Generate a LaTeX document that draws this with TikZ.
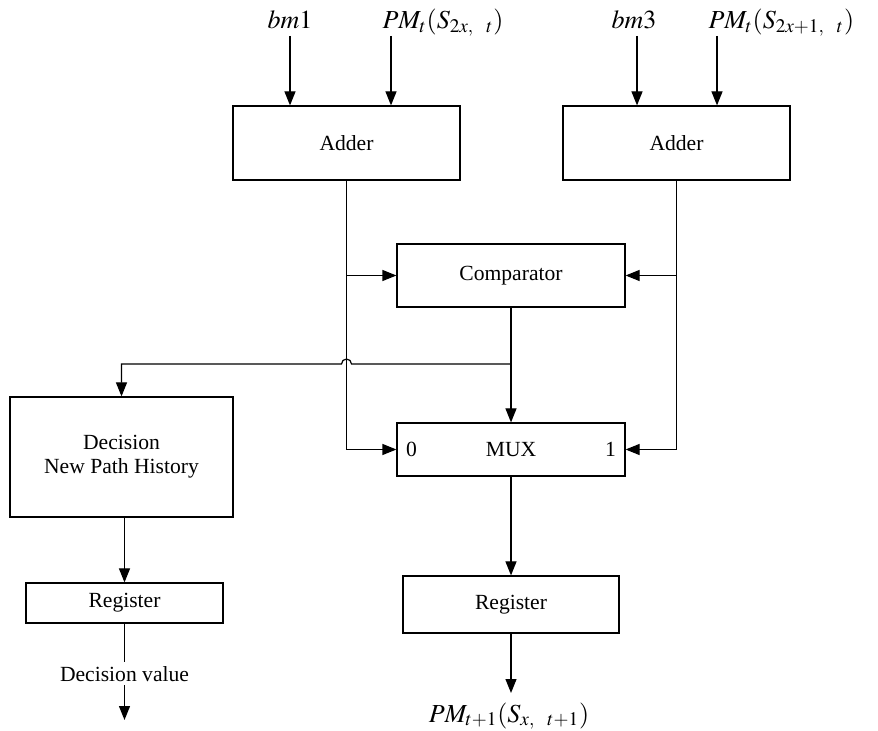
\documentclass[tikz,border=0pt]{standalone}
\usepackage{mathptmx}
\usepackage{fontspec}
\setmainfont{Liberation Serif}
\usetikzlibrary{arrows.meta}

\begin{document}
\begin{tikzpicture}[x=0.5pt, y=-0.5pt, >={Triangle[length=7pt,width=5.5pt]}, line width=0.6pt,
    block/.style={draw, inner sep=0pt, align=center, font=\fontsize{10.8}{12}\selectfont},
    lbl/.style={inner sep=0pt, anchor=base, font=\fontsize{13}{15}\selectfont},
    small/.style={inner sep=1.5pt, font=\fontsize{10.8}{12}\selectfont}]
\useasboundingbox (0,0) rectangle (878,731);

% blocks
\node[block, minimum width=113.5pt, minimum height=37pt] (add1) at (346.5,143) {Adder};
\node[block, minimum width=113.5pt, minimum height=37pt] (add2) at (676.5,143) {Adder};
\node[block, minimum width=114pt, minimum height=31.5pt] (comp) at (511,275.5) {Comparator};
\node[block, minimum width=114pt, minimum height=26.5pt] (mux) at (511,449.5) {MUX};
\node[block, minimum width=111.5pt, minimum height=60pt] (dec) at (121.5,457) {Decision\\New Path History};
\node[block, minimum width=98.5pt, minimum height=20pt] (regL) at (124.5,603) {Register};
\node[block, minimum width=108pt, minimum height=28.5pt] (regR) at (511,604.5) {Register};
\node[small, anchor=west] (mux0) at ([xshift=3pt]mux.west) {0};
\node[small, anchor=east] (mux1) at ([xshift=-3pt]mux.east) {1};

% inputs
\node[lbl] (bmA) at (290,29) {$bm1$};
\node[lbl, anchor=base west] (pmA) at (382,29) {$PM_t(S_{2x,\ \ t})$};
\node[lbl] (bmB) at (634,29) {$bm3$};
\node[lbl, anchor=base west] (pmB) at (708,29) {$PM_t(S_{2x+1,\ \ t})$};
\coordinate (bmAin) at (290,36);
\coordinate (pmAin) at (391,36);
\coordinate (bmBin) at (637,36);
\coordinate (pmBin) at (717,36);
\draw[->] (bmAin) -- (bmAin |- add1.north);
\draw[->] (pmAin) -- (pmAin |- add1.north);
\draw[->] (bmBin) -- (bmBin |- add2.north);
\draw[->] (pmBin) -- (pmBin |- add2.north);

% adder outputs
\draw[->] (add1.south) -- (add1.south |- mux.west) -- (mux.west);
\draw[->] (add1.south |- comp.west) -- (comp.west);
\draw[->] (add2.south) -- (add2.south |- mux.east) -- (mux.east);
\draw[->] (add2.south |- comp.east) -- (comp.east);

% comparator output
\coordinate (split) at (comp.south |- 0,364);
\draw[->] (comp.south) -- (mux.north);
\draw[->] (split) -- ([xshift=2.5pt]add1.south |- split)
    arc[start angle=0, end angle=180, radius=2.5pt]
    -- (dec.north |- split) -- (dec.north);

% outputs
\coordinate (dvout) at (124.5,720);
\coordinate (pmout) at (511,693);
\draw[->] (dec.south) -- (dec.south -| regL.north) -- (regL.north);
\draw[->] (regL.south) -- (dvout) node[small, pos=0.52, fill=white, inner sep=2pt] (dv) {Decision value};
\draw[->] (mux.south) -- (regR.north);
\draw[->] (regR.south) -- (pmout);
\node[lbl] (pmC) at (509,722) {$PM_{t+1}(S_{x,\ \ t+1})$};
\end{tikzpicture}
\end{document}
